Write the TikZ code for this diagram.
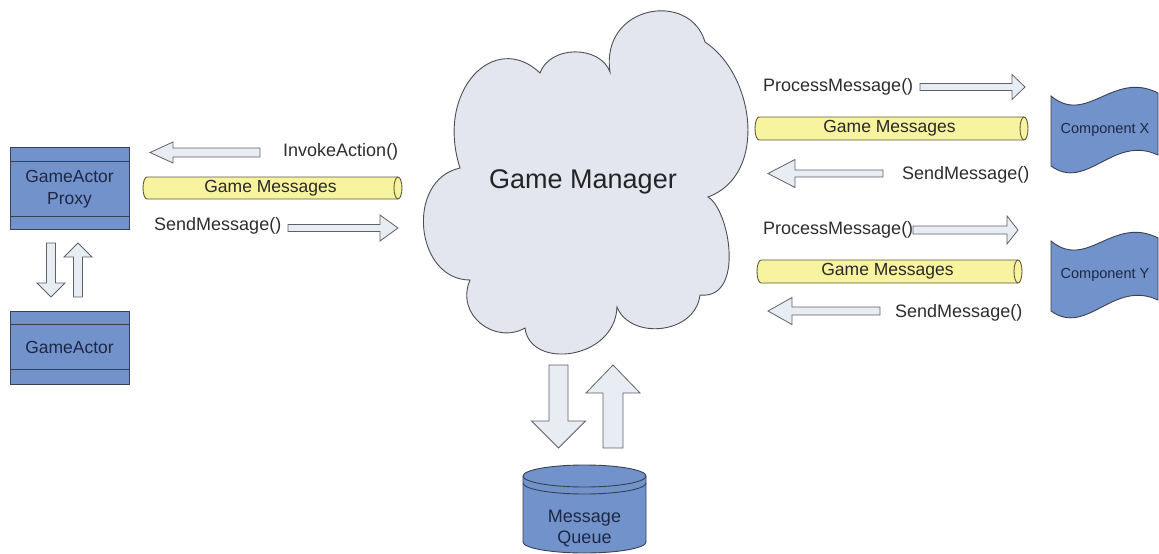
\documentclass[tikz,border=0pt]{standalone}
\usepackage{fontspec}
\setmainfont{Liberation Sans}

\definecolor{boxblue}{RGB}{114,146,204}
\definecolor{boxedge}{RGB}{58,64,80}
\definecolor{pipefill}{RGB}{248,243,158}
\definecolor{pipeedge}{RGB}{92,90,62}
\definecolor{cloudfill}{RGB}{227,230,239}
\definecolor{arrowfill}{RGB}{232,236,243}
\definecolor{lineedge}{RGB}{95,97,104}
\definecolor{labelcol}{RGB}{45,45,48}
\definecolor{darktext}{RGB}{30,40,66}

% horizontal block arrow: y, tail x, head base x, tip x, shaft half width, head half width
\newcommand{\harrow}[6]{%
  \draw[blockarrow] (#2,#1-#5) -- (#3,#1-#5) -- (#3,#1-#6) -- (#4,#1)
    -- (#3,#1+#6) -- (#3,#1+#5) -- (#2,#1+#5) -- cycle;}
% vertical block arrow: x, tail y, head base y, tip y, shaft half width, head half width
\newcommand{\varrow}[6]{%
  \draw[blockarrow] (#1-#5,#2) -- (#1-#5,#3) -- (#1-#6,#3) -- (#1,#4)
    -- (#1+#6,#3) -- (#1+#5,#3) -- (#1+#5,#2) -- cycle;}
% horizontal pipe: name, left x, right end centre x, top y, bottom y, text
\newcommand{\pipe}[6]{%
  \pgfmathsetmacro{\pipeL}{#2+4}%
  \pgfmathsetmacro{\pipeMid}{(#4+#5)/2}%
  \pgfmathsetmacro{\pipeK}{(#5-#4)/2*0.552}%
  \draw[pipebody] (\pipeL,#4) -- (#3,#4)
    .. controls (#3+2.2,#4) and (#3+4,\pipeMid-\pipeK) .. (#3+4,\pipeMid)
    .. controls (#3+4,\pipeMid+\pipeK) and (#3+2.2,#5) .. (#3,#5)
    -- (\pipeL,#5)
    .. controls (\pipeL-2.2,#5) and (\pipeL-4,\pipeMid+\pipeK) .. (\pipeL-4,\pipeMid)
    .. controls (\pipeL-4,\pipeMid-\pipeK) and (\pipeL-2.2,#4) .. (\pipeL,#4) -- cycle;
  \draw[pipebody, fill=none] (#3,#4)
    .. controls (#3-2.2,#4) and (#3-4,\pipeMid-\pipeK) .. (#3-4,\pipeMid)
    .. controls (#3-4,\pipeMid+\pipeK) and (#3-2.2,#5) .. (#3,#5);
  \node[pipetext] (#1) at ({(#2+#3)/2},\pipeMid) {#6};}
% wavy component shape: name, top-left y, text
\newcommand{\wavy}[3]{%
  \draw[blockbox] (1051,#2) .. controls (1087,#2+30) and (1113,#2-26) .. (1158,#2-3)
    -- (1158,#2+59) .. controls (1113,#2+38) and (1087,#2+96) .. (1051,#2+70) -- cycle;
  \node[comptext] (#1) at (1105,#2+34) {#3};}

\begin{document}
\begin{tikzpicture}[x=1pt,y=-1pt,
  blockbox/.style={fill=boxblue, draw=boxedge, line width=0.9pt},
  blockarrow/.style={fill=arrowfill, draw=lineedge, line width=0.8pt, line join=miter},
  pipebody/.style={fill=pipefill, draw=pipeedge, line width=0.9pt},
  cloudshape/.style={fill=cloudfill, draw=lineedge!80!black, line width=0.9pt},
  callname/.style={font=\fontsize{18}{20}\selectfont, text=labelcol, inner sep=0pt, anchor=west},
  pipetext/.style={font=\fontsize{17.5}{20}\selectfont, text=labelcol!90!black, inner sep=0pt},
  boxtext/.style={font=\fontsize{17.5}{22}\selectfont, text=darktext, align=center, inner sep=0pt},
  comptext/.style={font=\fontsize{14.5}{17}\selectfont, text=darktext, inner sep=0pt}]
\useasboundingbox (0,0) rectangle (1159,554);

% ---- game manager cloud
\path[cloudshape] (610,72)
  .. controls (600,5) and (690,-10) .. (705,42)
  .. controls (755,75) and (768,175) .. (708,197)
  .. controls (730,210) and (745,300) .. (700,295)
  .. controls (695,335) and (630,340) .. (617,307)
  .. controls (615,360) and (530,370) .. (525,328)
  .. controls (495,345) and (455,315) .. (470,280)
  .. controls (415,280) and (405,180) .. (460,168)
  .. controls (435,90) and (495,30) .. (540,73)
  .. controls (550,45) and (600,45) .. (610,72) -- cycle;
\node[font=\fontsize{27}{30}\selectfont, text=labelcol!80!black, inner sep=0pt] (gm) at (583,182) {Game Manager};

% ---- actor side
\draw[blockbox] (10,147) rectangle (129,229);
\draw[blockbox] (10,161) -- (129,161) (10,216) -- (129,216);
\node[boxtext] (gap) at (69.5,189) {GameActor\\Proxy};
\draw[blockbox] (10,311) rectangle (129,384);
\draw[blockbox] (10,324) -- (129,324) (10,369) -- (129,369);
\node[boxtext] (ga) at (69.5,347) {GameActor};
\varrow{51}{243}{283}{297}{4.5}{14}
\varrow{78}{297}{257}{243}{4.5}{14}

\harrow{152.5}{260}{173}{150}{4.5}{10.5}
\node[callname] (invoke) at (283,152) {InvokeAction()};
\pipe{pipeL}{143}{398}{177}{199}{Game Messages}
\node[callname] (sendL) at (154,226) {SendMessage()};
\harrow{228}{288}{380}{398}{3.5}{13}

% ---- component X
\node[callname] (procX) at (763,87) {ProcessMessage()};
\harrow{87}{920}{1012}{1025}{3.5}{12.5}
\pipe{pipeX}{755}{1024}{117}{140}{Game Messages}
\harrow{173.5}{883}{795}{768}{3.5}{14}
\node[callname] (sendX) at (902,175) {SendMessage()};
\wavy{compx}{96}{Component X}

% ---- component Y
\node[callname] (procY) at (763,230) {ProcessMessage()};
\harrow{230}{913}{1007}{1018}{4}{14}
\pipe{pipeY}{757}{1018}{260}{283}{Game Messages}
\harrow{311}{880}{792}{768}{4}{13.5}
\node[callname] (sendY) at (895,313) {SendMessage()};
\wavy{compy}{241}{Component Y}

% ---- message queue
\varrow{558.5}{365}{421}{448}{9.5}{27}
\varrow{613}{448}{393}{365}{10}{27}
\draw[blockbox] (523,476) -- (523,542)
  .. controls (523,548.07) and (550.55,553) .. (584.5,553)
  .. controls (618.45,553) and (646,548.07) .. (646,542) -- (646,476)
  .. controls (646,469.93) and (618.45,465) .. (584.5,465)
  .. controls (550.55,465) and (523,469.93) .. (523,476) -- cycle;
\draw[blockbox, fill=none] (523,476)
  .. controls (523,482.07) and (550.55,487) .. (584.5,487)
  .. controls (618.45,487) and (646,482.07) .. (646,476);
\draw[blockbox, fill=none] (523,483)
  .. controls (523,489.07) and (550.55,494) .. (584.5,494)
  .. controls (618.45,494) and (646,489.07) .. (646,483);
\node[boxtext, font=\fontsize{18}{21}\selectfont] (mq) at (584.5,529) {Message\\Queue};
\end{tikzpicture}
\end{document}
